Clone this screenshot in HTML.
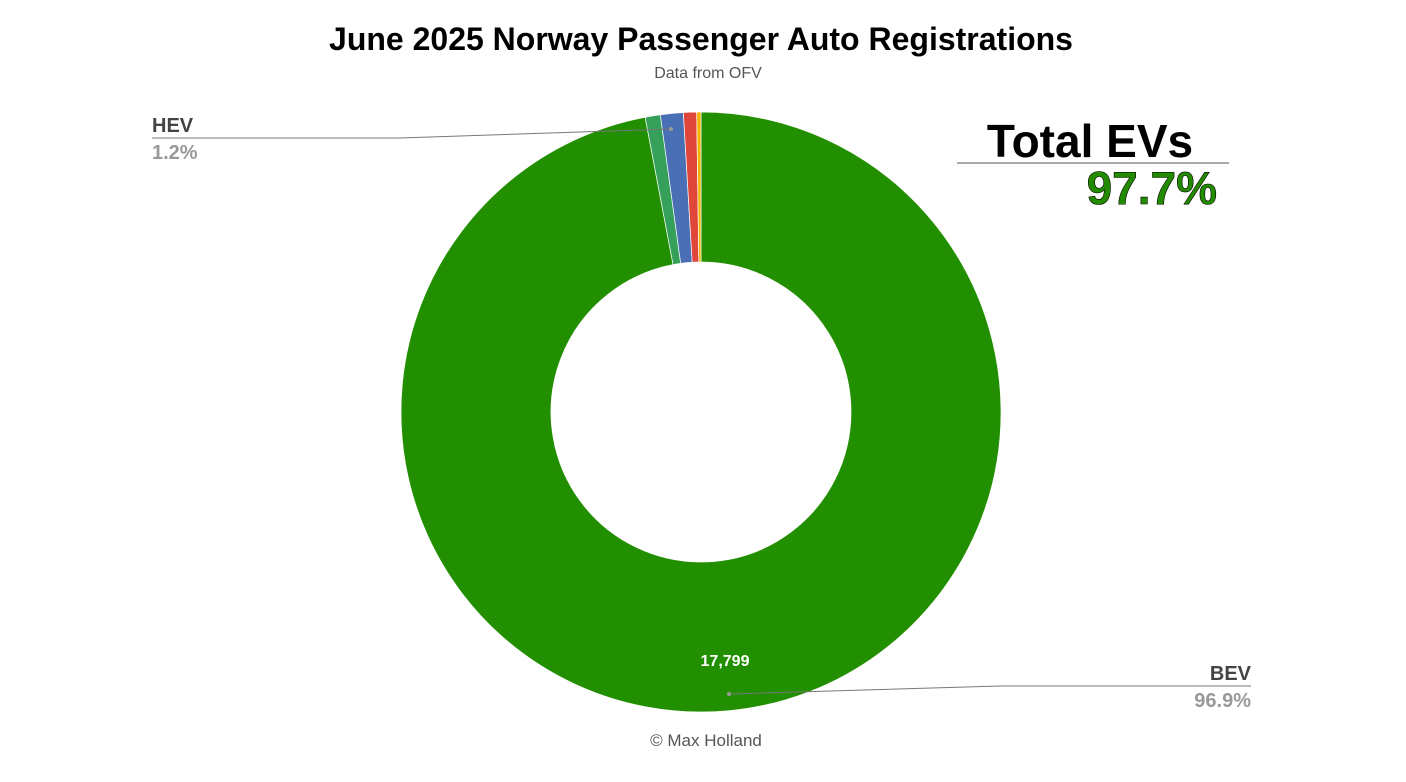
<!DOCTYPE html>
<html><head><meta charset="utf-8"><style>
body{margin:0;background:#fff;font-family:"Liberation Sans",sans-serif}
svg{display:block}
</style></head><body>
<svg width="1406" height="782" viewBox="0 0 1406 782">
<text x="701" y="50" text-anchor="middle" font-size="32" font-weight="bold" fill="#000">June 2025 Norway Passenger Auto Registrations</text>
<text x="708" y="78" text-anchor="middle" font-size="16" fill="#555">Data from OFV</text>
<g id="slices"></g>
<text x="725" y="666" text-anchor="middle" font-size="16" font-weight="bold" fill="#fff">17,799</text>
<g>
<polyline points="671,129 400,138 152,138" fill="none" stroke="#777" stroke-width="1"/>
<circle cx="671" cy="129" r="2" fill="#999"/>
<text x="152" y="132" font-size="20" font-weight="bold" fill="#444">HEV</text>
<text x="152" y="159" font-size="20" font-weight="bold" fill="#999">1.2%</text>
</g>
<g>
<polyline points="729,694 1000,686 1251,686" fill="none" stroke="#777" stroke-width="1"/>
<circle cx="729" cy="694" r="2" fill="#999"/>
<text x="1251" y="680" text-anchor="end" font-size="20" font-weight="bold" fill="#444">BEV</text>
<text x="1251" y="707" text-anchor="end" font-size="20" font-weight="bold" fill="#999">96.9%</text>
</g>
<text x="1090" y="157" text-anchor="middle" font-size="46" font-weight="bold" fill="#000">Total EVs</text>
<line x1="957" y1="163" x2="1229" y2="163" stroke="#777" stroke-width="1.2"/>
<text x="1217" y="204" text-anchor="end" font-size="46" font-weight="bold" fill="#228b00" stroke="#000" stroke-width="0.6">97.7%</text>
<text x="706" y="746" text-anchor="middle" font-size="17" fill="#555">© Max Holland</text>
</svg>
<script>
const categories=["BEV","PHEV","HEV","Petrol","Diesel"];
const values=[17799,150,225,130,42];
const colors=["#228f00","#34a05a","#4a6fb5","#e0463a","#f4b400"];
const cx=701,cy=412,R=300,r=150;
const total=values.reduce((a,b)=>a+b,0);
const g=document.getElementById('slices');
function pt(rad,a){return [cx+rad*Math.sin(a),cy-rad*Math.cos(a)];}
let acc=0;
values.forEach((v,i)=>{
  const a0=acc/total*2*Math.PI;acc+=v;const a1=acc/total*2*Math.PI;
  const large=(a1-a0)>Math.PI?1:0;
  const p0=pt(R,a0),p1=pt(R,a1),q1=pt(r,a1),q0=pt(r,a0);
  const p=document.createElementNS('http://www.w3.org/2000/svg','path');
  p.setAttribute('d',`M${p0[0]},${p0[1]}A${R},${R} 0 ${large} 1 ${p1[0]},${p1[1]}L${q1[0]},${q1[1]}A${r},${r} 0 ${large} 0 ${q0[0]},${q0[1]}Z`);
  p.setAttribute('fill',colors[i]);
  p.setAttribute('stroke','#fff');p.setAttribute('stroke-width','0.7');
  
  
  g.appendChild(p);
});
</script>
</body></html>
